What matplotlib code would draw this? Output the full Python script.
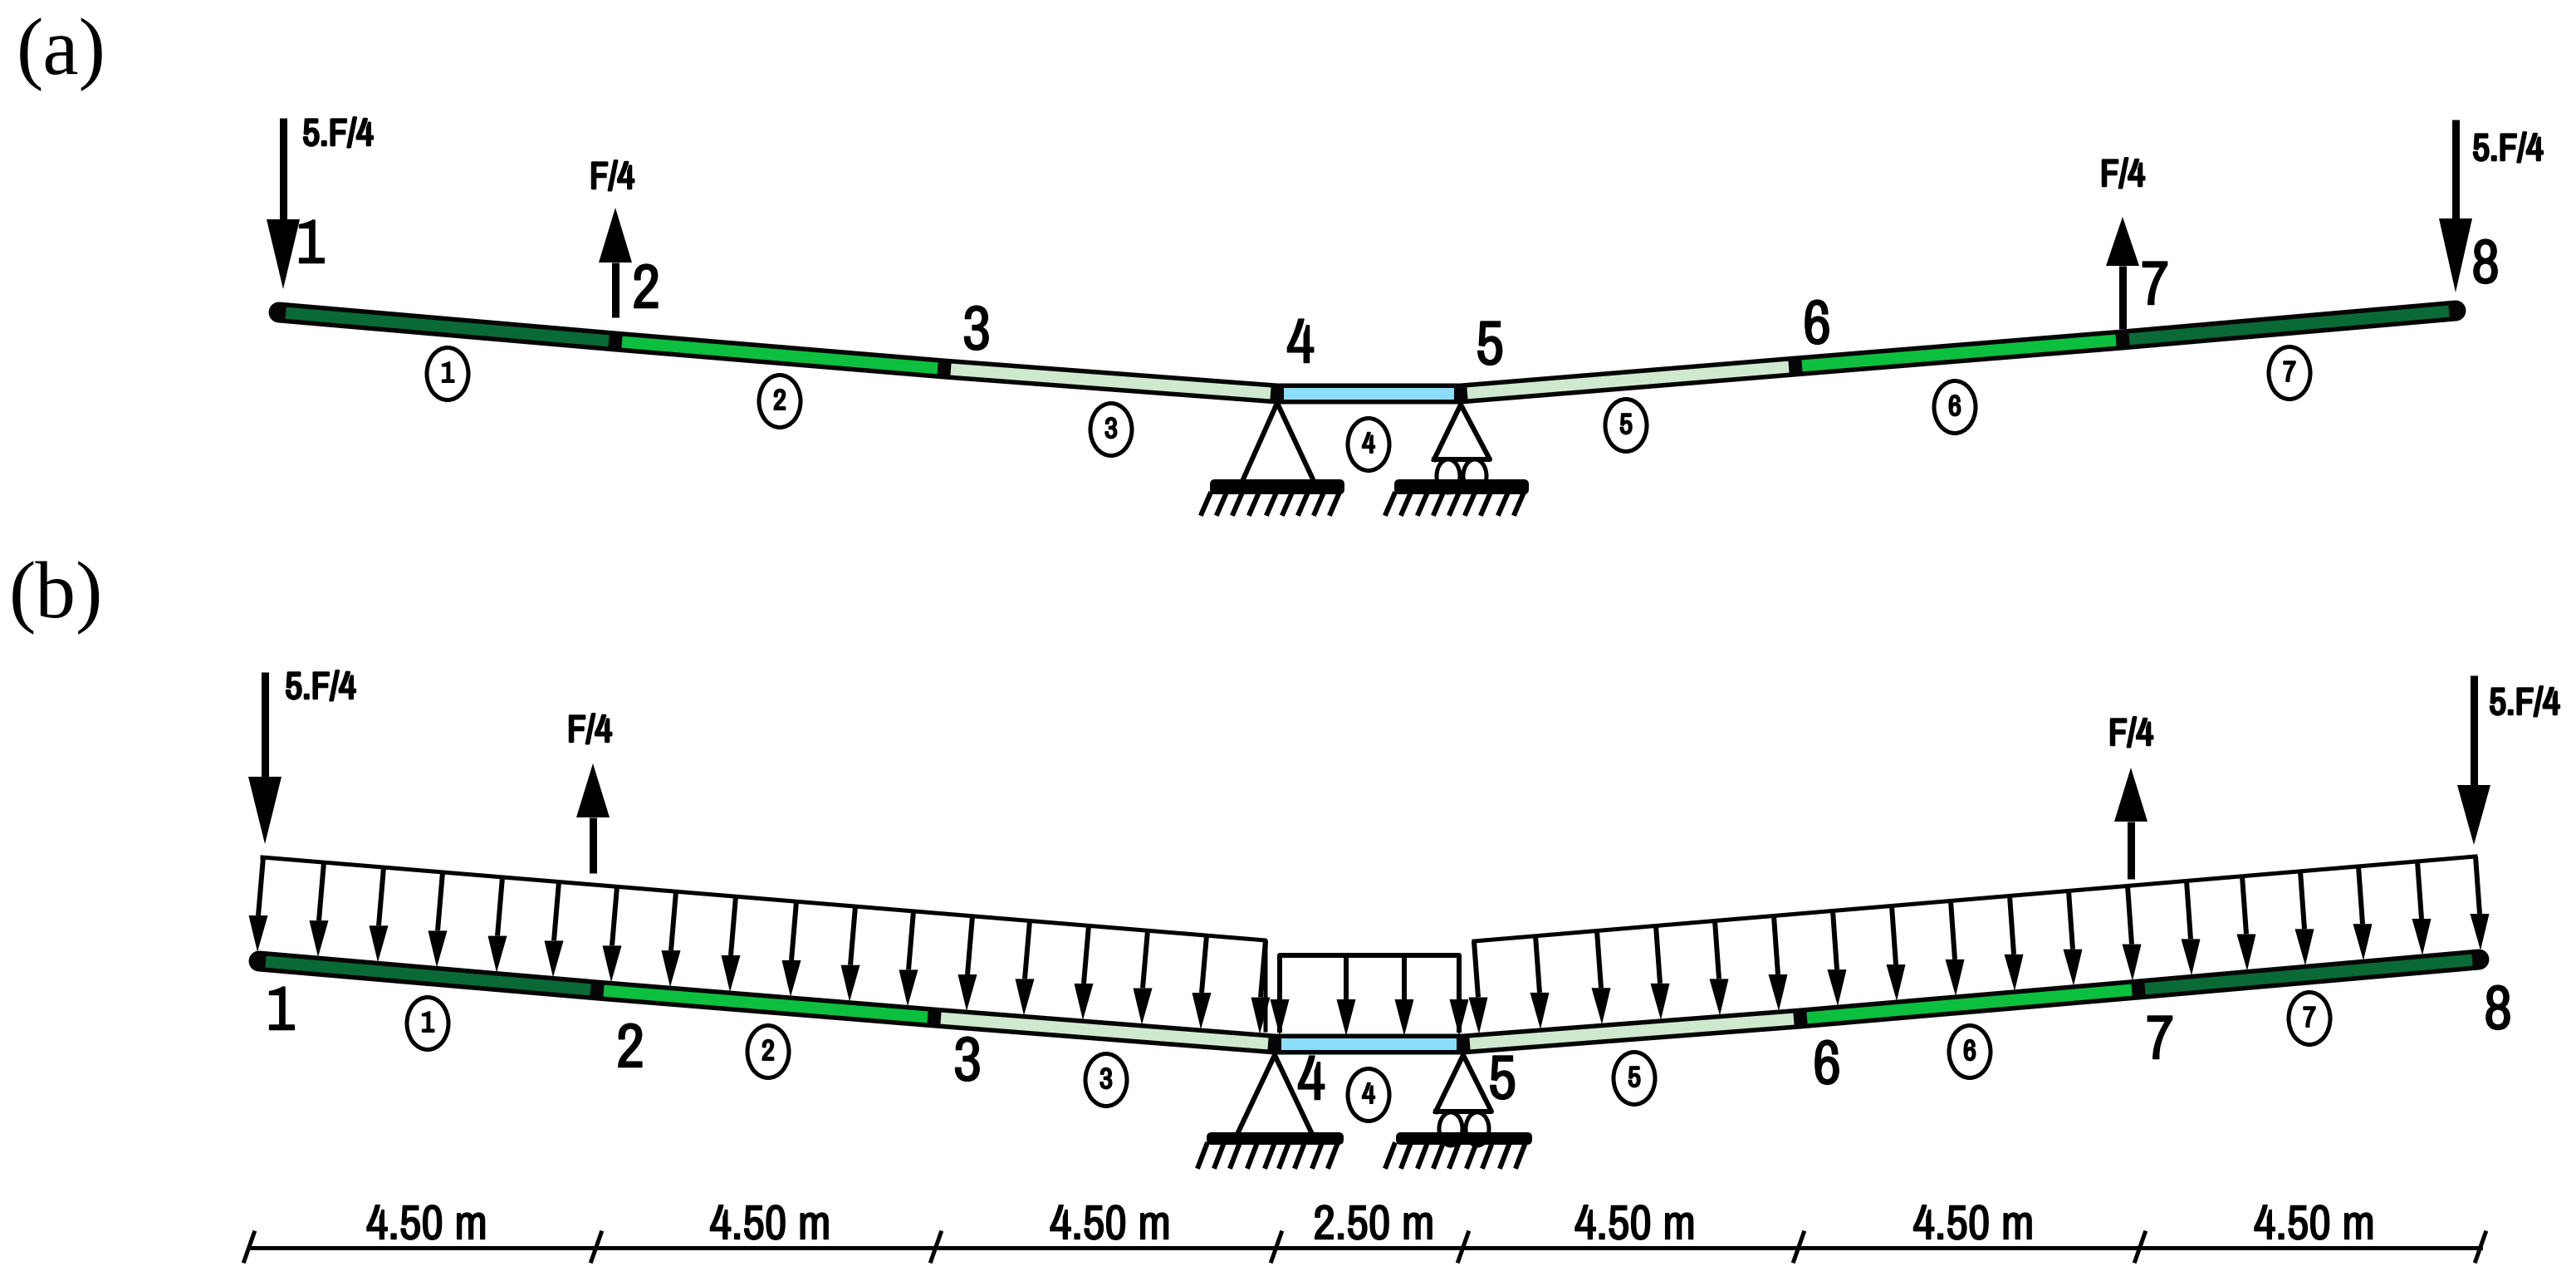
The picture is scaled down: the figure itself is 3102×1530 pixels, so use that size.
import numpy as np
import matplotlib
matplotlib.use("Agg")
import matplotlib.pyplot as plt
import matplotlib.patheffects as pe
from matplotlib.patches import Ellipse, FancyBboxPatch

plt.rcParams['font.family'] = ['Archivo Narrow', 'Liberation Sans']

# everything in pixels
a_nodes_x = [336, 741, 1137, 1538, 1759, 2162, 2556, 2957]
a_nodes_y = [376, 411, 444, 474, 474, 441, 409, 374]
b_nodes_x = [312, 719, 1125, 1535, 1762, 2168, 2575, 2985]
b_nodes_y = [1157, 1192, 1225, 1257, 1257, 1226, 1191, 1155]
beam_colors = ['#0a6a36', '#0cbf3f', '#cfe9cf', '#8cdcfb', '#cfe9cf', '#0cbf3f', '#0a6a36']

a_label_x = [374, 778, 1176, 1566, 1794, 2188, 2595, 2993]
a_label_y = [296, 350, 400, 416, 418, 393, 346, 320]
b_label_x = [338, 759, 1165, 1579, 1809, 2200, 2601, 3008]
b_label_y = [1219, 1264, 1280, 1303, 1302, 1284, 1254, 1218]

a_circle_x = [539, 939, 1338, 1648, 1958, 2354, 2757]
a_circle_y = [450, 483, 517, 535, 512, 490, 449]
b_circle_x = [515, 925, 1332, 1648, 1968, 2372, 2781]
b_circle_y = [1232, 1266, 1300, 1318, 1298, 1266, 1226]
circle_labels = ['1', '2', '3', '4', '5', '6', '7']

# point forces: x, tail y, head base y, tip y
a_forces = [(341, 142, 264, 348), (741, 382, 316, 250), (2556, 396, 320, 261), (2957, 144, 263, 352)]
b_forces = [(319, 809, 935, 1016), (714, 1051, 984, 919), (2566, 1058, 989, 924), (2979, 813, 945, 1017)]
force_names_a = [('5.F/4', 407, 162), ('F/4', 737, 214), ('F/4', 2556, 211), ('5.F/4', 3020, 180)]
force_names_b = [('5.F/4', 386, 828), ('F/4', 710, 880), ('F/4', 2566, 884), ('5.F/4', 3040, 847)]

# distributed load in (b)
left_top_x = [317, 390, 462, 533, 605, 673, 743, 814, 886, 959, 1030, 1100, 1171, 1240, 1311, 1382, 1453, 1524]
mid_top_x = [1541, 1621, 1691, 1757]
right_top_x = [1775, 1849, 1923, 1994, 2065, 2136, 2207, 2278, 2349, 2420, 2491, 2562, 2633, 2700, 2770, 2840, 2911, 2981]

dim_ticks_x = [300, 718, 1127, 1537, 1762, 2166, 2577, 2987]
dim_labels = ['4.50 m', '4.50 m', '4.50 m', '2.50 m', '4.50 m', '4.50 m', '4.50 m']

a_left_ticks = [1447, 1466, 1485, 1505, 1526, 1545, 1564, 1583, 1602]
a_right_ticks = [1669, 1688, 1708, 1727, 1746, 1765, 1784, 1805, 1824]
b_left_ticks = [1443, 1463, 1482, 1503, 1524, 1541, 1560, 1581, 1600]
b_right_ticks = [1669, 1688, 1708, 1727, 1746, 1767, 1786, 1807, 1826]

fig = plt.figure(figsize=(31.02, 15.30), dpi=100)
ax = fig.add_axes([0, 0, 1, 1])
ax.set_xlim(0, 3102)
ax.set_ylim(1530, 0)
ax.axis('off')


def px(w):
    return w * 0.72


def heavy(w):
    # the font has no real bold here, so thicken the strokes
    return [pe.withStroke(linewidth=px(w), foreground='black')]


def draw_beam(xs, ys):
    ax.plot(xs, ys, color='#050505', lw=px(25), solid_capstyle='round', zorder=3)
    for i in range(7):
        x0, x1 = xs[i] + 8, xs[i + 1] - 8
        y0 = np.interp(x0, xs, ys)
        y1 = np.interp(x1, xs, ys)
        ax.plot([x0, x1], [y0, y1], color=beam_colors[i], lw=px(14), solid_capstyle='butt', zorder=4)


def arrow(x_tail, y_tail, x_base, y_base, x_tip, y_tip, head_w, lw):
    ax.plot([x_tail, x_base], [y_tail, y_base], color='black', lw=px(lw), solid_capstyle='butt', zorder=5)
    ax.fill([x_base - head_w / 2, x_base + head_w / 2, x_tip], [y_base, y_base, y_tip],
            color='black', lw=0, zorder=5)


def draw_force(f):
    arrow(f[0], f[1], f[0], f[2], f[0], f[3], 40, 9)


def ground(x0, x1, y, h, tick_bottoms):
    ax.add_patch(FancyBboxPatch((x0 + 6, y + 4), x1 - x0 - 12, h - 8, boxstyle='round,pad=4,rounding_size=6',
                                fc='black', ec='black', lw=0, zorder=5))
    for tx in tick_bottoms:
        ax.plot([tx, tx + 10], [y + 41, y + h], color='black', lw=px(6), zorder=4)


def fixed_support(apex_x, apex_y, base_l, base_r, base_y, bar_l, bar_r, h, ticks):
    ax.plot([base_l, apex_x, base_r], [base_y, apex_y, base_y], color='black', lw=px(6), zorder=2)
    ground(bar_l, bar_r, base_y, h, ticks)


def roller_support(apex_x, apex_y, base_l, base_r, base_y, bar_y, bar_l, bar_r, h, ticks):
    ax.plot([base_l, apex_x, base_r, base_l], [base_y, apex_y, base_y, base_y], color='black', lw=px(6), zorder=2)
    for cx in [apex_x - 15, apex_x + 17]:
        ax.add_patch(Ellipse((cx, bar_y - 4), 28, 40, fc='white', ec='black', lw=px(5), zorder=3))
    ground(bar_l, bar_r, bar_y, h, ticks)


def circles(xs, ys):
    for x, y, t in zip(xs, ys, circle_labels):
        ax.add_patch(Ellipse((x, y), 50, 63, fc='white', ec='black', lw=px(5), zorder=5))
        ax.text(x, y, t, fontsize=25, ha='center', va='center', zorder=6, path_effects=heavy(2))


def node_labels(xs, ys):
    for i, (x, y) in enumerate(zip(xs, ys)):
        ax.text(x, y, str(i + 1), fontsize=54, ha='center', va='center', zorder=6, path_effects=heavy(1.5))


# panel a
draw_beam(a_nodes_x, a_nodes_y)
fixed_support(1538, 485, 1497, 1581, 577, 1455, 1621, 18, a_left_ticks)
roller_support(1759, 487, 1727, 1794, 553, 577, 1677, 1843, 18, a_right_ticks)
for f in a_forces:
    draw_force(f)
for name, x, y in force_names_a:
    ax.text(x, y, name, fontsize=33, ha='center', va='center', path_effects=heavy(2.5))
circles(a_circle_x, a_circle_y)
node_labels(a_label_x, a_label_y)

# panel b
draw_beam(b_nodes_x, b_nodes_y)
fixed_support(1535, 1270, 1491, 1579, 1363, 1451, 1620, 15, b_left_ticks)
roller_support(1762, 1270, 1729, 1796, 1338, 1363, 1679, 1847, 15, b_right_ticks)

top_line_x = [316, 1524]
top_line_y = [1032, 1132]
ax.plot(top_line_x + [1524], top_line_y + [1240], color='black', lw=px(5), zorder=2)
ax.plot([1541, 1541, 1757, 1757], [1240, 1150, 1150, 1240], color='black', lw=px(6), zorder=2)
right_line_x = [1775, 2981]
right_line_y = [1133, 1031]
ax.plot(right_line_x, right_line_y, color='black', lw=px(5), zorder=2)

for tx in left_top_x:
    ty = np.interp(tx, top_line_x, top_line_y)
    tip_x = tx - 7
    tip_y = np.interp(tip_x, b_nodes_x, b_nodes_y) - 11
    arrow(tx, ty, tip_x + 1, tip_y - 44, tip_x, tip_y, 23, 6)
for tx in mid_top_x:
    arrow(tx, 1150, tx, 1203, tx, 1247, 23, 6)
for tx in right_top_x:
    ty = np.interp(tx, right_line_x, right_line_y)
    tip_x = tx + 6
    tip_y = np.interp(tip_x, b_nodes_x, b_nodes_y) - 11
    arrow(tx, ty, tip_x - 1, tip_y - 44, tip_x, tip_y, 23, 6)

for f in b_forces:
    draw_force(f)
for name, x, y in force_names_b:
    ax.text(x, y, name, fontsize=33, ha='center', va='center', path_effects=heavy(2.5))
circles(b_circle_x, b_circle_y)
node_labels(b_label_x, b_label_y)

# dimension line
ax.plot([dim_ticks_x[0], dim_ticks_x[-1]], [1502, 1502], color='black', lw=px(5))
for x in dim_ticks_x:
    ax.plot([x - 6, x + 6], [1518, 1484], color='black', lw=px(5))
for i, t in enumerate(dim_labels):
    ax.text((dim_ticks_x[i] + dim_ticks_x[i + 1]) / 2 + 5, 1475, t, fontsize=42, ha='center', va='center',
            path_effects=heavy(1.5))

ax.text(74, 66, '(a)', fontsize=70, family='Liberation Serif', ha='center', va='center')
ax.text(67, 720, '(b)', fontsize=70, family='Liberation Serif', ha='center', va='center')

fig.savefig('out.png', dpi=100)
